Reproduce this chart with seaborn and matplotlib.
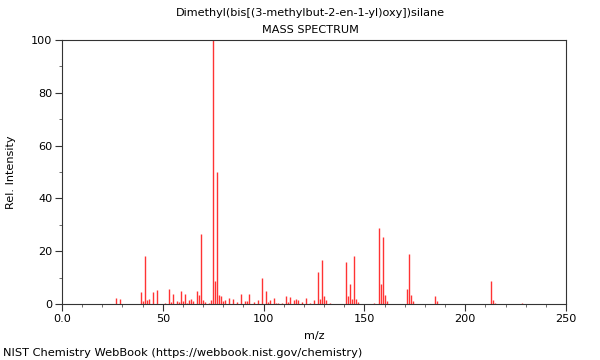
import matplotlib
matplotlib.use("Agg")
import matplotlib.pyplot as plt
import numpy as np
import pandas as pd
import seaborn as sns
from matplotlib.ticker import MultipleLocator

compound = "Dimethyl(bis[(3-methylbut-2-en-1-yl)oxy])silane"

# peak positions (m/z) and relative intensities
mz = [27, 29, 39, 40, 41, 42, 43, 45, 47, 51, 53, 54, 55, 57, 58, 59, 60, 61,
      62, 63, 64, 65, 67, 68, 69, 70, 71, 73, 74, 75, 76, 77, 78, 79, 80, 81,
      83, 85, 87, 89, 91, 92, 93, 95, 97, 99, 101, 102, 103, 105, 106, 107,
      109, 111, 112, 113, 115, 116, 117, 119, 121, 123, 125, 127, 128, 129,
      130, 131, 133, 141, 142, 143, 144, 145, 146, 147, 155, 157, 158, 159,
      160, 161, 171, 172, 173, 174, 185, 186, 213, 214, 215, 228]
intensity = [2.1, 2.0, 4.7, 1.3, 18.0, 1.5, 2.0, 4.7, 5.2, 0.5, 5.8, 0.8, 3.6,
             1.3, 0.8, 5.0, 1.3, 3.8, 0.5, 1.5, 1.9, 1.0, 5.0, 3.5, 26.5, 1.6,
             0.7, 0.5, 1.6, 100.0, 8.6, 50.0, 3.3, 3.2, 1.0, 1.5, 2.2, 1.9, 0.6,
             3.7, 1.0, 1.0, 3.7, 0.6, 1.5, 10.0, 4.9, 0.8, 1.7, 2.2, 0.5, 0.5,
             0.5, 2.9, 0.7, 2.5, 1.7, 2.0, 1.4, 0.7, 2.1, 0.3, 1.7, 12.3, 1.8,
             16.5, 2.9, 1.6, 0.5, 16.0, 3.2, 7.4, 1.8, 18.0, 1.9, 0.6, 0.4,
             28.6, 7.5, 25.5, 3.4, 1.0, 5.8, 19.0, 3.3, 1.0, 3.0, 1.0, 8.9, 1.6,
             0.5, 0.5]

x_ticks = [0, 50, 100, 150, 200, 250]
x_tick_labels = ["0.0", "50", "100", "150", "200", "250"]
y_ticks = [0, 20, 40, 60, 80, 100]

df = pd.DataFrame({"mz": mz, "intensity": intensity})

sns.set_style("ticks")
plt.rcParams["font.family"] = ["DejaVu Sans"]
plt.rcParams["font.size"] = 8
plt.rcParams["text.color"] = "black"
plt.rcParams["axes.labelcolor"] = "black"
plt.rcParams["xtick.labelcolor"] = "black"
plt.rcParams["ytick.labelcolor"] = "black"

fig = plt.figure(figsize=(6, 3.6), dpi=100)
ax = fig.add_axes([62 / 600, 1 - 304 / 360, 504 / 600, 264 / 360])

ax.vlines(df["mz"], 0, df["intensity"], colors="#ff0000", linewidth=1.0, alpha=0.8)

ax.set_xlim(0, 250)
ax.set_ylim(0, 100)
ax.set_xticks(x_ticks)
ax.set_xticklabels(x_tick_labels)
ax.set_yticks(y_ticks)
ax.xaxis.set_minor_locator(MultipleLocator(10))
ax.yaxis.set_minor_locator(MultipleLocator(10))
ax.tick_params(which="major", length=5, width=0.8, color="#333333", labelsize=8.1, pad=2)
ax.tick_params(which="minor", length=2.5, width=0.6, color="#555555")
for s in ax.spines.values():
    s.set_visible(True)
    s.set_color("#333333")
    s.set_linewidth(0.8)

ax.set_xlabel("m/z", fontsize=8.1, labelpad=5)
ax.set_ylabel("Rel. Intensity", fontsize=8.1, labelpad=11)

fig.text(310 / 600, 1 - 13 / 360, compound, ha="center", va="center", fontsize=8.1)
fig.text(310 / 600, 1 - 30 / 360, "MASS SPECTRUM", ha="center", va="center", fontsize=8.1)
fig.text(3 / 600, 1 - 353 / 360, "NIST Chemistry WebBook (https://webbook.nist.gov/chemistry)",
         ha="left", va="center", fontsize=8.2)

fig.savefig("out.png", dpi=100)
